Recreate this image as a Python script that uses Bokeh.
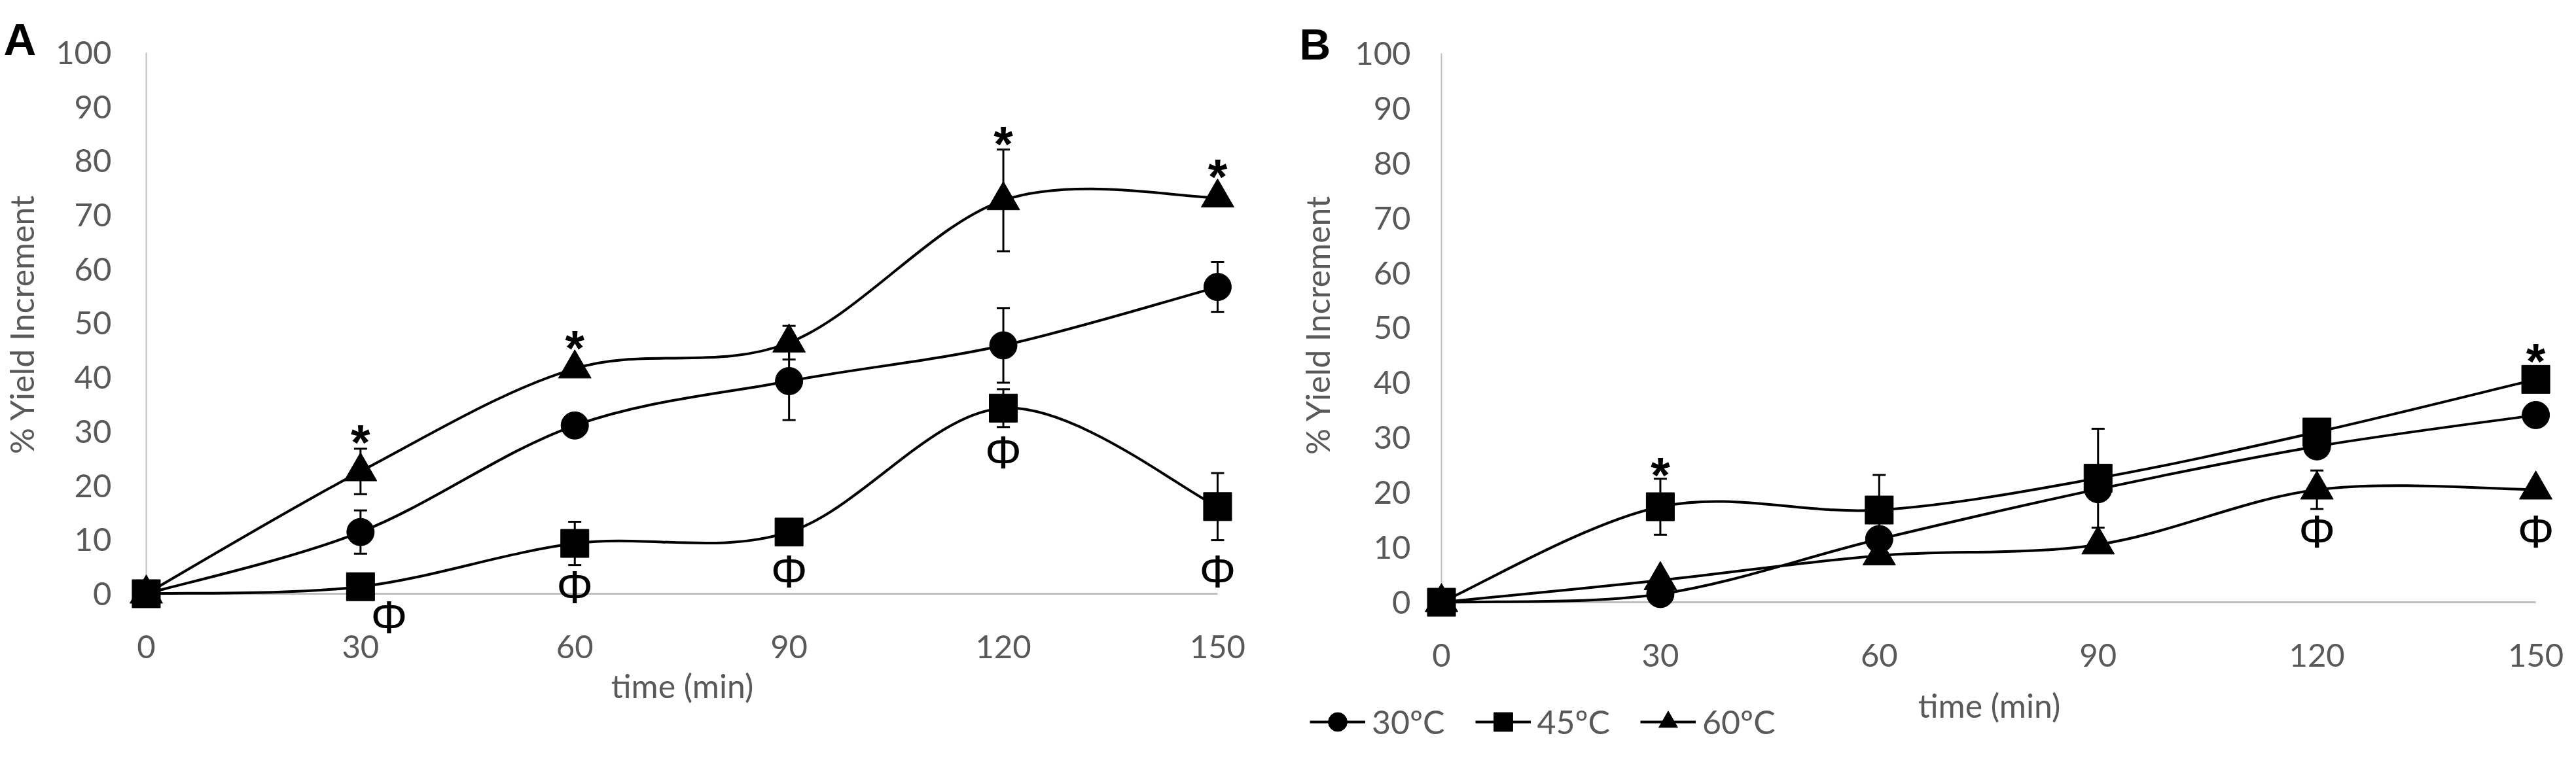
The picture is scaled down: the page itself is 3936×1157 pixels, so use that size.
import math
from bokeh.plotting import figure
from bokeh.models import (ColumnDataSource, FixedTicker, Whisker, TeeHead, Legend,
                          LegendItem, Label, Range1d)
from bokeh.layouts import row
from bokeh.core.properties import value
from bokeh.embed import file_html
from bokeh.resources import INLINE

# ---------------- data ----------------
time_min = [0, 30, 60, 90, 120, 150]
y_ticks = [0, 10, 20, 30, 40, 50, 60, 70, 80, 90, 100]
series_labels = ["30ºC", "45ºC", "60ºC"]
x_title = "time (min)"
y_title = "% Yield Increment"

# Panel A
a_30 = [0, 11.4, 31.1, 39.3, 45.9, 56.7]
a_30_err = [0, 4.0, 1.0, 7.2, 6.9, 4.6]
a_45 = [0, 1.3, 9.3, 11.4, 34.3, 16.1]
a_45_err = [0, 0.5, 4.0, 1.0, 3.5, 6.2]
a_60 = [0, 22.6, 41.6, 46.4, 72.7, 73.2]
a_60_err = [0, 4.2, 1.0, 3.1, 9.4, 1.0]
a_star_x = [30, 60, 120, 150]
a_star_y = [30.1, 47.5, 85.2, 79.2]
a_phi_x = [34, 60, 90, 120, 150]
a_phi_y = [-4.4, 1.1, 4.0, 26.0, 4.0]

# Panel B
b_30 = [0, 1.5, 11.5, 20.6, 28.4, 34.1]
b_30_err = [0, 0.5, 1.0, 1.0, 1.0, 1.0]
b_45 = [0, 17.4, 16.8, 22.6, 31.0, 40.6]
b_45_err = [0, 5.1, 6.4, 9.0, 1.0, 1.0]
b_60 = [0, 4.0, 8.5, 10.5, 20.5, 20.5]
b_60_err = [0, 1.0, 1.0, 1.0, 3.5, 1.0]
b_star_x = [30, 150]
b_star_y = [25.3, 46.0]
b_phi_x = [120, 150]
b_phi_y = [12.8, 12.8]

TXT = "#595959"
AXC = "#bfbfbf"
FONT = "Lato"


def bezier_ctrl(xs, ys, k=1.0 / 6.0):
    n = len(xs)
    d = dict(x0=[], y0=[], x1=[], y1=[], cx0=[], cy0=[], cx1=[], cy1=[])
    for i in range(n - 1):
        ip = i - 1 if i > 0 else i
        inx = i + 2 if i + 2 < n else i + 1
        d["x0"].append(xs[i]); d["y0"].append(ys[i])
        d["x1"].append(xs[i + 1]); d["y1"].append(ys[i + 1])
        d["cx0"].append(xs[i] + (xs[i + 1] - xs[ip]) * k)
        d["cy0"].append(ys[i] + (ys[i + 1] - ys[ip]) * k)
        d["cx1"].append(xs[i + 1] - (xs[inx] - xs[i]) * k)
        d["cy1"].append(ys[i + 1] - (ys[inx] - ys[i]) * k)
    return d


def make_panel(letter, letter_size, s30, e30, s45, e45, s60, e60, sx, sy, px, py,
               width, height, xr, yr, ylab_standoff, xlab_standoff,
               letter_pos, xtitle_pos, ytitle_pos, legend_pos=None):
    p = figure(width=width, height=height, x_range=Range1d(*xr), y_range=Range1d(*yr),
               output_backend="svg", toolbar_location=None,
               min_border_left=0, min_border_right=0, min_border_top=0, min_border_bottom=0)
    p.outline_line_color = None
    p.grid.visible = False
    p.background_fill_color = "white"
    p.border_fill_color = "white"

    for ax in (p.xaxis[0], p.yaxis[0]):
        ax.fixed_location = 0
        ax.axis_line_color = None
        ax.major_tick_line_color = None
        ax.minor_tick_line_color = None
        ax.major_label_text_font = FONT
        ax.major_label_text_font_size = "49px"
        ax.major_label_text_color = TXT
    p.xaxis[0].ticker = FixedTicker(ticks=time_min)
    p.yaxis[0].ticker = FixedTicker(ticks=y_ticks)
    p.yaxis[0].major_label_standoff = ylab_standoff
    p.xaxis[0].major_label_standoff = xlab_standoff

    # axis titles (centred on the data extent of each axis)
    tx, ty = xtitle_pos
    p.add_layout(Label(x=tx, y=ty, x_units="screen", y_units="screen", text=x_title,
                       text_font=FONT, text_font_size="50px", text_color=TXT,
                       text_align="center", text_baseline="middle"))
    vx, vy = ytitle_pos
    p.add_layout(Label(x=vx, y=vy, x_units="screen", y_units="screen", text=y_title,
                       text_font=FONT, text_font_size="50px", text_color=TXT,
                       text_align="center", text_baseline="middle", angle=math.pi / 2))

    # gray axis lines at x=0 and y=0
    p.segment(x0=[time_min[0]], y0=[y_ticks[0]], x1=[time_min[-1]], y1=[y_ticks[0]],
              line_color=AXC, line_width=3)
    p.segment(x0=[time_min[0]], y0=[y_ticks[0]], x1=[time_min[0]], y1=[y_ticks[-1]],
              line_color=AXC, line_width=2)

    renderers = {}
    specs = [("circle", s30, e30, 42, series_labels[0]),
             ("triangle", s60, e60, 50, series_labels[2]),
             ("square", s45, e45, 43, series_labels[1])]
    for marker, vals, errs, size, lab in specs:
        lr = p.bezier(source=ColumnDataSource(bezier_ctrl(time_min, vals)),
                      x0="x0", y0="y0", x1="x1", y1="y1", cx0="cx0", cy0="cy0", cx1="cx1", cy1="cy1",
                      line_color="black", line_width=4)
        src = ColumnDataSource(dict(x=time_min, y=vals,
                                    lo=[v - e for v, e in zip(vals, errs)],
                                    hi=[v + e for v, e in zip(vals, errs)]))
        w = Whisker(source=src, base="x", upper="hi", lower="lo", dimension="height",
                    line_color="black", line_width=3,
                    upper_head=TeeHead(size=20, line_width=3, line_color="black"),
                    lower_head=TeeHead(size=20, line_width=3, line_color="black"))
        p.add_layout(w)
        sr = p.scatter(x="x", y="y", source=src, marker=marker, size=size,
                       fill_color="black", line_color="black")
        renderers[lab] = [lr, sr]

    p.text(x=sx, y=sy, text=["*"] * len(sx), text_font=value("Liberation Sans"),
           text_font_size="76px", text_font_style="bold", text_align="center",
           text_baseline="middle", y_offset=17, text_color="black")
    p.text(x=px, y=py, text=["Φ"] * len(px), text_font=value("Liberation Sans"),
           text_font_size="70px", text_align="center", text_baseline="middle",
           text_color="black")

    lx, ly = letter_pos
    p.add_layout(Label(x=lx, y=ly, x_units="screen", y_units="screen", text=letter,
                       text_font="Liberation Sans", text_font_size=letter_size,
                       text_font_style="bold", text_color="black", text_baseline="alphabetic"))

    if legend_pos is not None:
        items = [LegendItem(label=lab, renderers=renderers[lab]) for lab in series_labels]
        leg = Legend(items=items, orientation="horizontal", location=legend_pos,
                     glyph_width=85, glyph_height=72, label_standoff=10, spacing=46,
                     padding=0, margin=0, border_line_color=None, background_fill_alpha=0,
                     label_text_font=FONT, label_text_font_size="50px", label_text_color=TXT)
        p.add_layout(leg, "center")
    return p


pa = make_panel("A", "69px", a_30, a_30_err, a_45, a_45_err, a_60, a_60_err,
                a_star_x, a_star_y, a_phi_x, a_phi_y,
                1960, 1141, (-20.43, 159.17), (-28.30, 109.67),
                47, 58, (5, 1081), (1042, 94), (32, 646))
pb = make_panel("B", "66px", b_30, b_30_err, b_45, b_45_err, b_60, b_60_err,
                b_star_x, b_star_y, b_phi_x, b_phi_y,
                1960, 1141, (-21.71, 154.12), (-26.34, 109.65),
                41, 58, (25, 1074), (1079, 64), (52, 645), legend_pos=(41, 2))

layout = row(pa, pb)
open("out.html", "w").write(file_html(layout, INLINE))
